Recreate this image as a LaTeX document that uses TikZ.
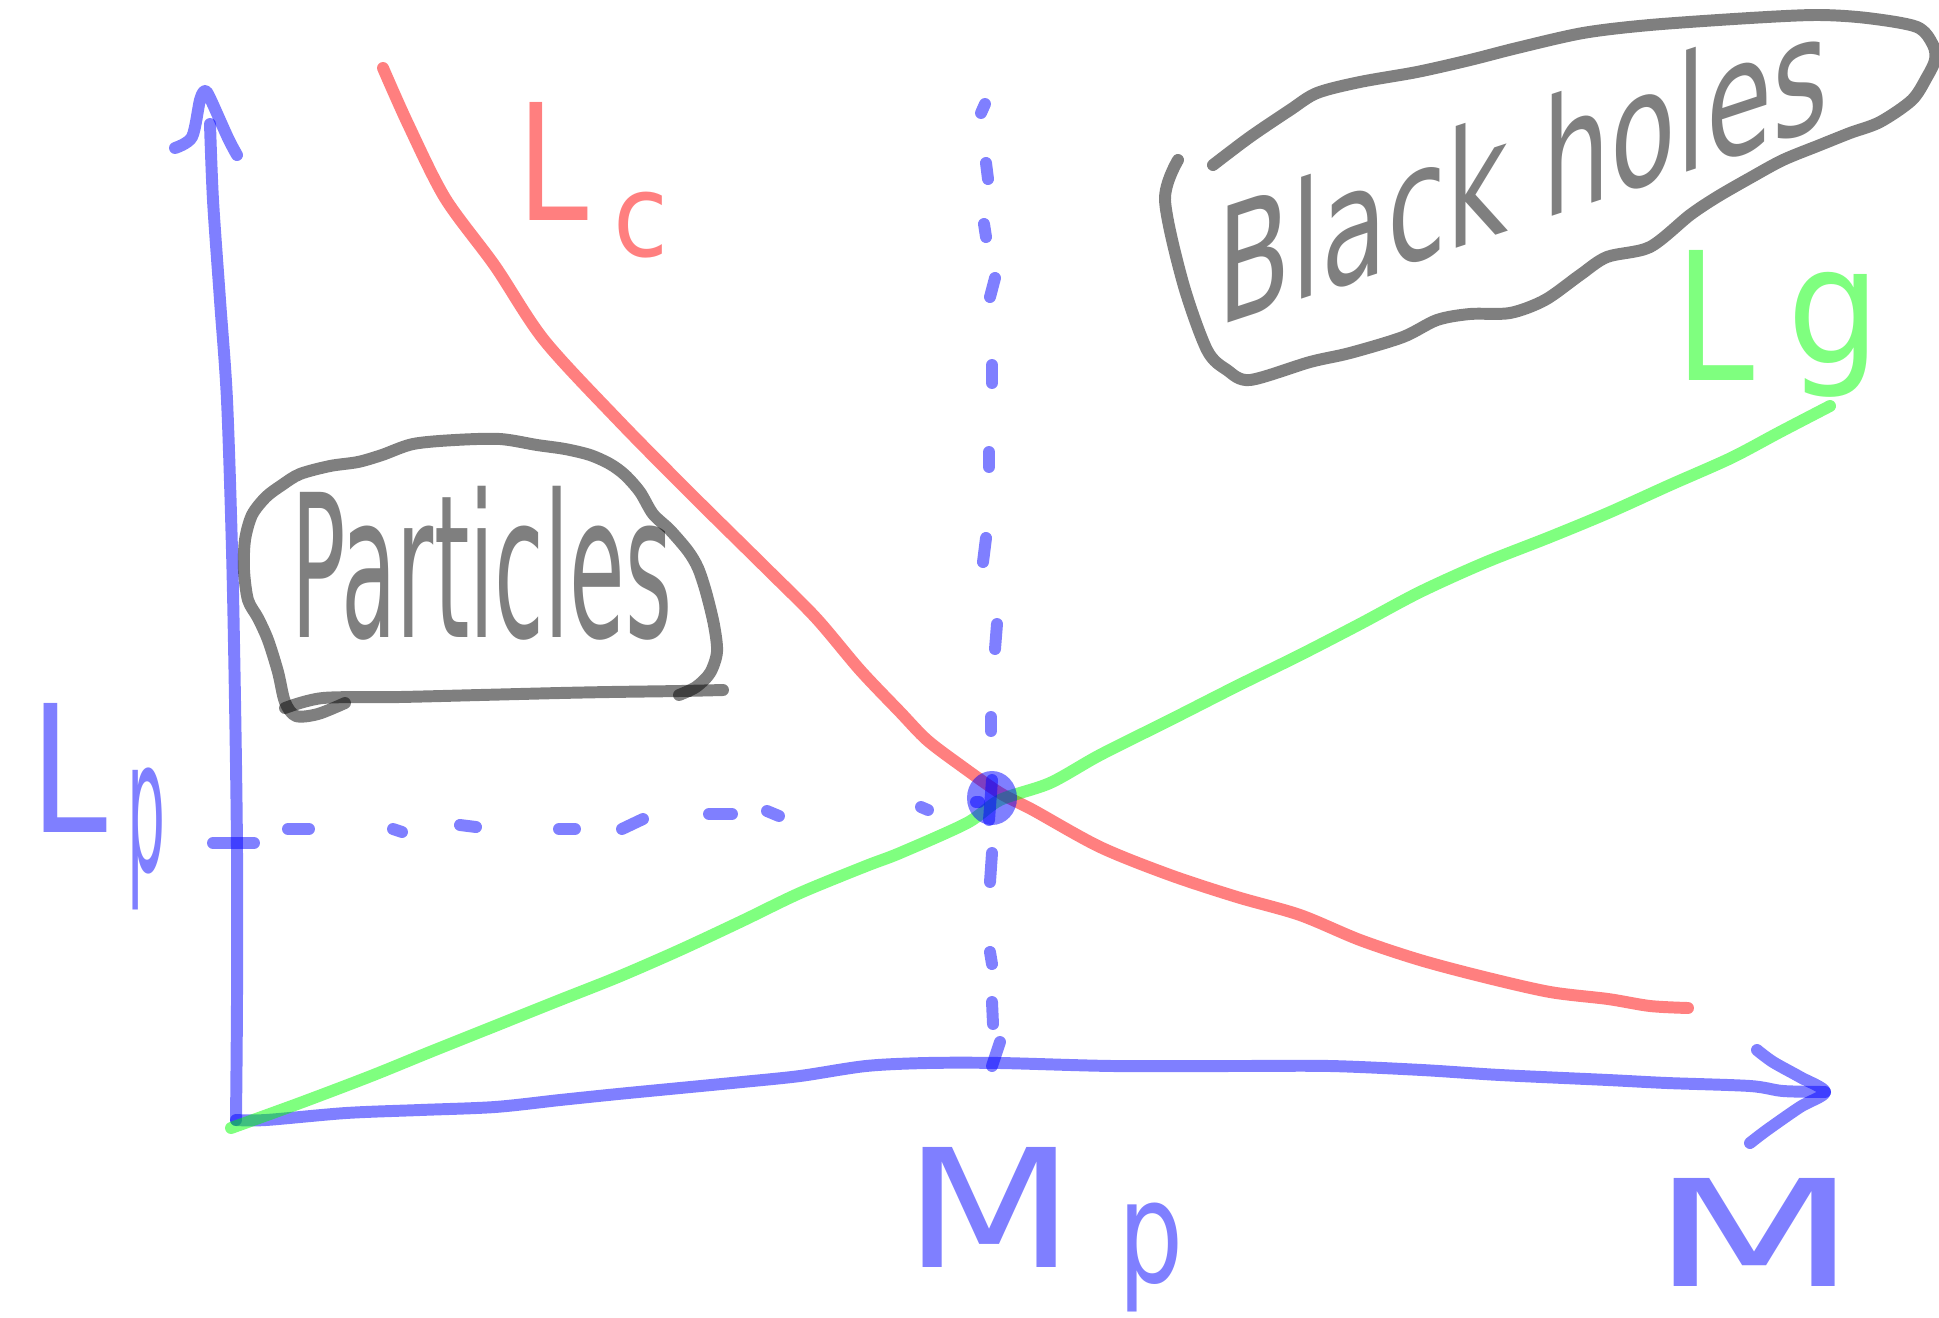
\documentclass[tikz,border=0pt]{standalone}
\usepackage{fontspec}
\setmainfont{DejaVu Sans}
\usepackage{graphicx}
\begin{document}
\begin{tikzpicture}[x=0.01cm,y=-0.01cm, line cap=round, line join=round,
  pen/.style={line width=3.4pt, draw opacity=0.5},
  bl/.style={pen, draw=blue},
  rd/.style={pen, draw=red},
  gr/.style={pen, draw=green},
  gy/.style={pen, draw=black},
  lab/.style={inner sep=0pt, outer sep=0pt, text opacity=0.5, anchor=north west},
  crv/.style={smooth, tension=0.5}]
\useasboundingbox (0,0) rectangle (1939,1318);

% ---- axes ----
\coordinate (O) at (236,1120);
\coordinate (ytip) at (205,91);
\coordinate (xtip) at (1825,1092);
\draw[bl] plot[crv] coordinates {(210,124) (213,200) (220,300) (227,400) (232,550) (235,700) (237,850) (237,1000) (236,1120)};
\draw[bl] plot[crv] coordinates {(175,148) (192,137) (200,100) (205,91) (210,98) (228,138) (237,155)};
\draw[bl] plot[crv] coordinates {(236,1120) (266,1120) (346,1113) (420,1110) (495,1107) (560,1100) (618,1094) (680,1088) (742,1082) (800,1076) (866,1066) (927,1063) (1000,1063) (1113,1066) (1237,1066) (1330,1066) (1422,1070) (1500,1075) (1608,1080) (1667,1083) (1750,1086) (1783,1091) (1825,1092)};
\draw[bl] plot[crv] coordinates {(1757,1050) (1773,1062) (1800,1077) (1825,1092) (1800,1107) (1767,1130) (1750,1143)};

% ---- red line Lc ----
\draw[rd] plot[crv] coordinates {(383,68) (408,124) (445,198) (495,266) (544,340) (618,420) (692,495) (767,569) (816,618) (860,670) (900,712) (927,740) (960,765) (1000,793) (1033,810) (1100,847) (1170,875) (1237,897) (1300,915) (1360,940) (1420,960) (1484,977) (1550,992) (1608,999) (1650,1006) (1688,1008)};

% ---- green line Lg ----
\draw[gr] plot[crv] coordinates {(231,1128) (300,1103) (371,1076) (430,1052) (495,1026) (560,1000) (618,977) (680,950) (742,921) (800,893) (866,866) (900,853) (967,823) (1000,800) (1050,783) (1100,755) (1170,720) (1237,686) (1300,655) (1360,624) (1420,592) (1484,563) (1550,537) (1608,513) (1670,485) (1731,458) (1780,432) (1830,406)};

% ---- dashed guides ----
\foreach \ax/\ay/\bx/\by in {213/843/254/843, 288/829/309/829, 393/829/402/832, 460/825/476/827, 559/829/575/829, 622/829/643/819, 709/814/732/814, 767/811/779/816, 921/807/928/810}
  \draw[bl] (\ax,\ay) -- (\bx,\by);
\foreach \ax/\ay/\bx/\by in {985/104/981/113, 986/163/988/179, 984/224/986/237, 995/278/990/297, 992/365/992/383, 989/452/989/467, 986/538/983/562, 997/624/995/649, 991/717/991/731, 992/853/990/882, 990/952/992/964, 992/1002/993/1024, 1000/1042/992/1066}
  \draw[bl] (\ax,\ay) -- (\bx,\by);

% ---- crossing point ----
\coordinate (X) at (992,798);
\fill[blue, opacity=0.5] (X) ellipse [x radius=0.25cm, y radius=0.27cm];
\draw[bl] (992,780) -- (989,820);
\draw[bl] (976,802) -- (979,802);

% ---- Particles ----
\draw[gy] plot[crv] coordinates {(345,703) (318,714) (296,716) (285,702) (278,672) (268,640) (258,618) (248,600) (244,570) (245,540) (252,515) (266,497) (282,485) (300,474) (330,466) (358,462) (382,455) (413,444) (455,440) (500,439) (537,445) (565,449) (590,455) (610,464) (625,475) (640,492) (653,514) (670,530) (688,551) (698,568) (706,592) (714,625) (717,652) (710,673) (696,687) (679,695)};
\draw[gy] plot[crv] coordinates {(285,708) (323,698) (400,697) (480,695) (560,693) (610,692) (680,691) (723,690)};
\node[lab, text=black] (part) at (291,486) {\resizebox*{3.81cm}{1.54cm}{Particles}};

% ---- Black holes ----
\draw[gy] plot[crv] coordinates {(1213,165) (1250,137) (1290,110) (1317,93) (1360,82) (1417,72) (1470,60) (1517,48) (1583,33) (1650,25) (1750,18) (1817,15) (1867,18) (1917,27) (1933,45) (1935,60) (1927,77) (1912,100) (1880,122) (1850,133) (1820,145) (1783,160) (1750,178) (1717,197) (1690,215) (1650,247) (1607,257) (1580,275) (1545,300) (1510,313) (1470,314) (1437,320) (1403,337) (1350,353) (1310,362) (1250,380) (1227,370) (1207,350) (1183,283) (1165,200) (1178,160)};
\node[inner sep=0pt, text=black, text opacity=0.5, yslant=0.33] (bh) at (1523,166) {\resizebox*{6.1cm}{1.24cm}{Black holes}};

% ---- labels ----
\node[lab, text=red] (LcL) at (517,102) {\resizebox*{0.71cm}{1.18cm}{L}};
\node[lab, text=red] (Lcc) at (613,192) {\resizebox*{0.55cm}{0.66cm}{c}};
\node[lab, text=green] (LgL) at (1675,250) {\resizebox*{0.79cm}{1.30cm}{L}};
\node[lab, text=green] (Lgg) at (1787,272) {\resizebox*{0.93cm}{1.25cm}{g}};
\node[lab, text=blue] (LpL) at (30,703) {\resizebox*{0.77cm}{1.29cm}{L}};
\node[lab, text=blue] (Lpp) at (127,768) {\resizebox*{0.38cm}{1.42cm}{p}};
\node[lab, text=blue] (MpM) at (903,1147) {\resizebox*{1.72cm}{1.20cm}{M}};
\node[lab, text=blue] (Mpp) at (1118,1203) {\resizebox*{0.65cm}{1.09cm}{p}};
\node[lab, text=blue] (M) at (1650,1178) {\resizebox*{2.08cm}{1.08cm}{M}};
\end{tikzpicture}
\end{document}
